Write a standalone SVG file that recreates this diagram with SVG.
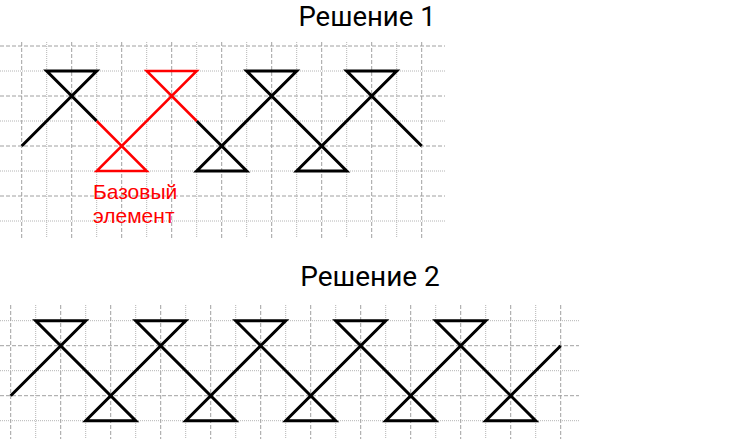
<svg xmlns="http://www.w3.org/2000/svg" width="730" height="439" viewBox="0 0 730 439">
<style>
.dash{stroke:#a0a0a0;stroke-width:1;stroke-dasharray:4,2;fill:none}
.dot{stroke:#b4b4b4;stroke-width:1;stroke-dasharray:1,1;fill:none}
.blk{stroke:#000;stroke-width:3;fill:none;stroke-linejoin:miter}
.red{stroke:#ff0000;stroke-width:2.5;fill:none;stroke-linejoin:miter}
.title{font-family:Roboto,"Liberation Sans",sans-serif;font-size:28px;fill:#000;text-anchor:middle}
.lbl{font-family:"Liberation Sans",Arial,sans-serif;font-size:21px;fill:#ff0000}
</style>
<rect width="730" height="439" fill="#fff"/>
<g id="title1"><text class="title" x="367" y="26" style="font-size:27.5px">Решение 1</text></g>
<g id="grid1">
<line class="dash" x1="0" y1="46" x2="445" y2="46"/>
<line class="dot" x1="0" y1="71" x2="445" y2="71"/>
<line class="dash" x1="0" y1="96" x2="445" y2="96"/>
<line class="dot" x1="0" y1="121" x2="445" y2="121"/>
<line class="dash" x1="0" y1="146" x2="445" y2="146"/>
<line class="dot" x1="0" y1="171" x2="445" y2="171"/>
<line class="dash" x1="0" y1="196" x2="445" y2="196"/>
<line class="dot" x1="0" y1="221" x2="445" y2="221"/>
<line class="dash" x1="21.7" y1="42" x2="21.7" y2="238"/>
<line class="dot" x1="46.7" y1="42" x2="46.7" y2="238"/>
<line class="dash" x1="71.7" y1="42" x2="71.7" y2="238"/>
<line class="dot" x1="96.7" y1="42" x2="96.7" y2="238"/>
<line class="dash" x1="121.7" y1="42" x2="121.7" y2="238"/>
<line class="dot" x1="146.7" y1="42" x2="146.7" y2="238"/>
<line class="dash" x1="171.7" y1="42" x2="171.7" y2="238"/>
<line class="dot" x1="196.7" y1="42" x2="196.7" y2="238"/>
<line class="dash" x1="221.7" y1="42" x2="221.7" y2="238"/>
<line class="dot" x1="246.7" y1="42" x2="246.7" y2="238"/>
<line class="dash" x1="271.7" y1="42" x2="271.7" y2="238"/>
<line class="dot" x1="296.7" y1="42" x2="296.7" y2="238"/>
<line class="dash" x1="321.7" y1="42" x2="321.7" y2="238"/>
<line class="dot" x1="346.7" y1="42" x2="346.7" y2="238"/>
<line class="dash" x1="371.7" y1="42" x2="371.7" y2="238"/>
<line class="dot" x1="396.7" y1="42" x2="396.7" y2="238"/>
<line class="dash" x1="421.7" y1="42" x2="421.7" y2="238"/>
</g>
<g id="pattern1">
<path class="blk" d="M21.7,146 L96.7,71 L46.7,71 L96.7,121"/>
<path class="blk" d="M196.7,121 L246.7,171 L196.7,171 L296.7,71 L246.7,71 L346.7,171 L296.7,171 L396.7,71 L346.7,71 L421.7,146"/>
</g>
<g id="base-element">
<path class="red" d="M96.7,121 L146.7,171 L96.7,171 L196.7,71 L146.7,71 L196.7,121"/>
<text class="lbl" x="93" y="199">Базовый</text>
<text class="lbl" x="93" y="223">элемент</text>
</g>
<g id="title2"><text class="title" x="370" y="286">Решение 2</text></g>
<g id="grid2">
<line class="dot" x1="0" y1="320.7" x2="579" y2="320.7"/>
<line class="dash" x1="0" y1="345.7" x2="579" y2="345.7"/>
<line class="dot" x1="0" y1="370.7" x2="579" y2="370.7"/>
<line class="dash" x1="0" y1="395.7" x2="579" y2="395.7"/>
<line class="dot" x1="0" y1="420.7" x2="579" y2="420.7"/>
<line class="dash" x1="10.7" y1="305" x2="10.7" y2="439"/>
<line class="dot" x1="35.7" y1="305" x2="35.7" y2="439"/>
<line class="dash" x1="60.7" y1="305" x2="60.7" y2="439"/>
<line class="dot" x1="85.7" y1="305" x2="85.7" y2="439"/>
<line class="dash" x1="110.7" y1="305" x2="110.7" y2="439"/>
<line class="dot" x1="135.7" y1="305" x2="135.7" y2="439"/>
<line class="dash" x1="160.7" y1="305" x2="160.7" y2="439"/>
<line class="dot" x1="185.7" y1="305" x2="185.7" y2="439"/>
<line class="dash" x1="210.7" y1="305" x2="210.7" y2="439"/>
<line class="dot" x1="235.7" y1="305" x2="235.7" y2="439"/>
<line class="dash" x1="260.7" y1="305" x2="260.7" y2="439"/>
<line class="dot" x1="285.7" y1="305" x2="285.7" y2="439"/>
<line class="dash" x1="310.7" y1="305" x2="310.7" y2="439"/>
<line class="dot" x1="335.7" y1="305" x2="335.7" y2="439"/>
<line class="dash" x1="360.7" y1="305" x2="360.7" y2="439"/>
<line class="dot" x1="385.7" y1="305" x2="385.7" y2="439"/>
<line class="dash" x1="410.7" y1="305" x2="410.7" y2="439"/>
<line class="dot" x1="435.7" y1="305" x2="435.7" y2="439"/>
<line class="dash" x1="460.7" y1="305" x2="460.7" y2="439"/>
<line class="dot" x1="485.7" y1="305" x2="485.7" y2="439"/>
<line class="dash" x1="510.7" y1="305" x2="510.7" y2="439"/>
<line class="dot" x1="535.7" y1="305" x2="535.7" y2="439"/>
<line class="dash" x1="560.7" y1="305" x2="560.7" y2="439"/>
</g>
<g id="pattern2">
<path class="blk" d="M10.7,395.7 L85.7,320.7 L35.7,320.7 L135.7,420.7 L85.7,420.7 L185.7,320.7 L135.7,320.7 L235.7,420.7 L185.7,420.7 L285.7,320.7 L235.7,320.7 L335.7,420.7 L285.7,420.7 L385.7,320.7 L335.7,320.7 L435.7,420.7 L385.7,420.7 L485.7,320.7 L435.7,320.7 L535.7,420.7 L485.7,420.7 L560.7,345.7"/>
</g>
</svg>
